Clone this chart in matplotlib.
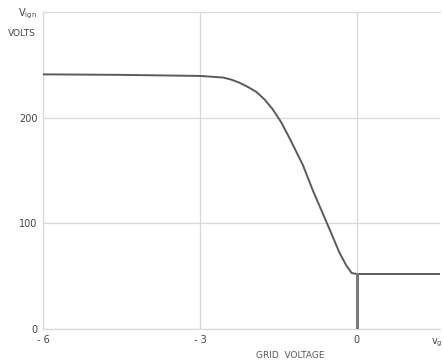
import matplotlib
matplotlib.use("Agg")
import matplotlib.pyplot as plt

# Data
curve_x = [-6.0, -4.5, -3.0, -2.56, -2.4, -2.24, -2.08, -1.91, -1.76, -1.61, -1.45, -1.28, -1.03, -0.84, -0.57, -0.33, -0.2, -0.1, 0.0]
curve_y = [241, 240.5, 239.5, 238, 236, 233, 229, 224, 217, 208, 196, 180, 155, 131, 100, 72, 60, 53, 52]
flat_x = [0.0, 1.64]
flat_y = [52, 52]
vert_x = [0.0, 0.0]
vert_y = [52, 0]
xticks = [-6, -3, 0]
xtick_labels = ["- 6", "- 3", "0"]
yticks = [0, 100, 200]
ytick_labels = ["0", "100", "200"]

fig = plt.figure(figsize=(4.43, 3.64), dpi=100)
ax = fig.add_axes([43/443, 35/364, 397/443, 317/364])
ax.set_xlim(-6, 1.59)
ax.set_ylim(0, 300)

grid_c = "#d8d8d8"
for gx in xticks:
    ax.axvline(gx, color=grid_c, lw=0.9, zorder=1)
for gy in yticks:
    ax.axhline(gy, color=grid_c, lw=0.9, zorder=1)

for s in ax.spines.values():
    s.set_color(grid_c)
    s.set_linewidth(0.9)
ax.spines["right"].set_visible(False)

line_c = "#5a5a5a"
ax.plot(curve_x, curve_y, color=line_c, lw=1.4, zorder=3, solid_joinstyle="round")
ax.plot(flat_x, flat_y, color=line_c, lw=1.4, zorder=3)
ax.plot(vert_x, vert_y, color="#7a7a7a", lw=2.2, zorder=3)

ax.set_xticks(xticks)
ax.set_xticklabels(xtick_labels)
ax.set_yticks(yticks)
ax.set_yticklabels(ytick_labels)
ax.tick_params(length=0, labelsize=7, colors="#444444", pad=4)

fig.text(27/443, 1 - 14/364, r"V$_{\mathrm{ign}}$", fontsize=7, color="#444444", ha="center", va="center")
fig.text(22/443, 1 - 33/364, "VOLTS", fontsize=6.5, color="#444444", ha="center", va="center")
fig.text(290/443, 1 - 355/364, "GRID  VOLTAGE", fontsize=6.5, color="#555555", ha="center", va="center")
fig.text(437/443, 1 - 343/364, r"v$_{\mathrm{g}}$", fontsize=7, color="#444444", ha="center", va="center")

fig.savefig("out.png", dpi=100)
